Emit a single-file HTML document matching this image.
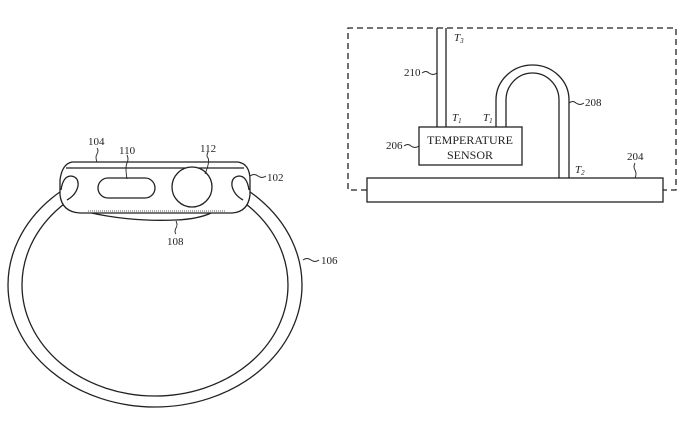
<!DOCTYPE html>
<html><head><style>body{margin:0;background:#fff}svg{display:block}text{font-family:"Liberation Serif",serif;font-size:11px;fill:#222}</style></head><body>
<svg width="680" height="425" viewBox="0 0 680 425" fill="none" stroke="#222" stroke-width="1.3">
<!-- band -->
<ellipse cx="155" cy="285" rx="147" ry="122"/>
<ellipse cx="155" cy="285" rx="133" ry="111"/>
<!-- body -->
<path d="M87 212 Q130 222 176 220 Q200 219 213 212 Z" fill="#fff"/>
<path d="M72 162 L238 162 Q250 164 250 180 L250 195 Q248 212 232 213 L80 213 Q62 212 60 195 L60 180 Q62 164 72 162 Z" fill="#fff"/>
<line x1="66" y1="168" x2="244" y2="168"/>
<line x1="88" y1="211" x2="225" y2="211" stroke-dasharray="1 1" stroke-width="0.8"/>
<path d="M61 190 Q63 176 71 176 Q79 177 78 186 Q76 195 67 200"/>
<path d="M249 190 Q247 176 239 176 Q231 177 232 186 Q234 195 243 200"/>
<rect x="98" y="178" width="57" height="20" rx="10" fill="#fff"/>
<circle cx="192" cy="187" r="20" fill="#fff"/>
<!-- leaders -->
<path d="M97 148 q2 3 0 6 q-2 3 0 8" stroke-width="0.9"/>
<path d="M127 155 q2 4 0 8 q-2 4 0 16" stroke-width="0.9"/>
<path d="M208 152 q-2 4 0 6 q2 4 -3 16" stroke-width="0.9"/>
<path d="M250 176 q4 -3 8 0 q4 3 8 0" stroke-width="0.9"/>
<path d="M176 221 q2 4 0 7 q-2 4 0 6" stroke-width="0.9"/>
<path d="M303 260 q4 -3 8 0 q4 3 8 0" stroke-width="0.9"/>
<g stroke="none"><text x="88" y="145">104</text><text x="119" y="154">110</text><text x="200" y="152">112</text><text x="267" y="181">102</text><text x="167" y="245">108</text><text x="321" y="264">106</text></g>
<!-- right diagram -->
<path d="M367 190 L348 190 L348 28 L676 28 L676 190 L663 190" stroke-dasharray="6 4"/>
<rect x="367" y="178" width="296" height="24" fill="#fff"/>
<path d="M437 28 V127 M446 28 V127"/>
<path d="M496 127 V100 A36.5 35 0 0 1 569 100 V178 M506 127 V100 A26.5 27 0 0 1 559 100 V178"/>
<rect x="419" y="127" width="103" height="38" fill="#fff"/>
<g stroke="none" style="font-family:'Liberation Serif',serif">
<text x="470" y="144" text-anchor="middle" style="font-size:12px">TEMPERATURE</text>
<text x="470" y="159" text-anchor="middle" style="font-size:12px">SENSOR</text>
<text x="454" y="41" font-style="italic">T<tspan font-size="7" dy="2">3</tspan></text>
<text x="452" y="121" font-style="italic">T<tspan font-size="7" dy="2">1</tspan></text>
<text x="483" y="121" font-style="italic">T<tspan font-size="7" dy="2">1</tspan></text>
<text x="575" y="173" font-style="italic">T<tspan font-size="7" dy="2">2</tspan></text>
<text x="404" y="76">210</text><text x="585" y="106">208</text><text x="386" y="149">206</text><text x="627" y="160">204</text></g>
<path d="M422 73 q4 -3 7 0 q4 3 8 0" stroke-width="0.9"/>
<path d="M569 103 q4 -3 7 0 q4 3 8 0" stroke-width="0.9"/>
<path d="M404 146 q4 -3 7 0 q4 3 8 0" stroke-width="0.9"/>
<path d="M635 163 q-2 4 0 7 q2 4 0 8" stroke-width="0.9"/>
</svg>
</body></html>
